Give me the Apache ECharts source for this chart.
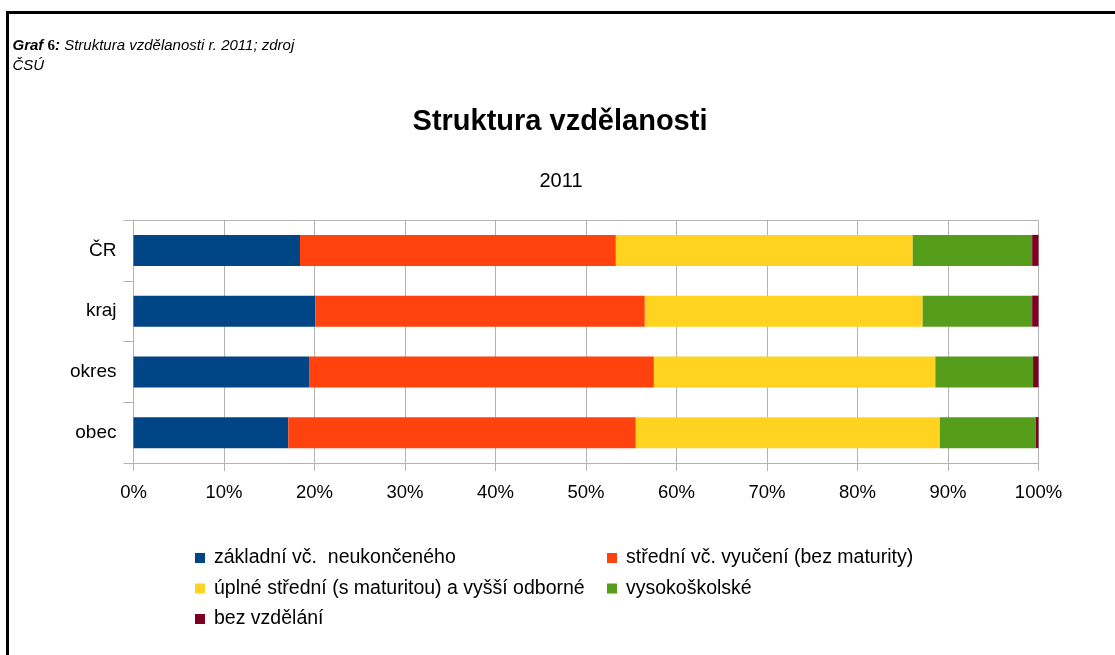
<!DOCTYPE html>
<html>
<head>
<meta charset="utf-8">
<script src="https://cdn.jsdelivr.net/npm/echarts@6/dist/echarts.min.js"></script>
<style>
html,body{margin:0;padding:0;background:#fff;}
#c{width:1115px;height:655px;}
</style>
</head>
<body>
<div id="c"></div>
<script>
// ---- data ----
const categories = ['ČR', 'kraj', 'okres', 'obec'];
const seriesNames = [
  'základní vč.  neukončeného',
  'střední vč. vyučení (bez maturity)',
  'úplné střední (s maturitou) a vyšší odborné',
  'vysokoškolské',
  'bez vzdělání'
];
const zakladni   = [18.4, 20.1, 19.4, 17.1];
const stredni    = [34.9, 36.4, 38.1, 38.4];
const uplne      = [32.8, 30.7, 31.1, 33.6];
const vysoko     = [13.2, 12.1, 10.8, 10.6];
const bezVzdel   = [0.7, 0.7, 0.6, 0.3];
const tickValues = [0, 10, 20, 30, 40, 50, 60, 70, 80, 90, 100];
const colors = ['#004586', '#ff420e', '#ffd320', '#579d1c', '#7e0021'];

const seriesData = [zakladni, stredni, uplne, vysoko, bezVzdel];
const FONT = '"Liberation Sans", Arial, sans-serif';
const GRAY = '#b3b3b3';

const chart = echarts.init(document.getElementById('c'), null, {renderer: 'canvas'});

const legendText = {fontFamily: FONT, fontSize: 19.5, color: '#000', lineHeight: 20, padding: [0, 0, 0, 4]};

chart.setOption({
  animation: false,
  color: colors,
  graphic: [
    {type: 'line', shape: {x1: 7.5, y1: 12.5, x2: 1115, y2: 12.5}, style: {stroke: '#000', lineWidth: 3}},
    {type: 'line', shape: {x1: 7.5, y1: 11, x2: 7.5, y2: 655}, style: {stroke: '#000', lineWidth: 3}},
    {
      type: 'text', x: 12.5, y: 36,
      style: {
        text: '{b|Graf }{n|6}{b|:}{i| Struktura vzdělanosti r. 2011; zdroj}\n{i|ČSÚ}',
        verticalAlign: 'top',
        rich: {
          b: {fontFamily: FONT, fontSize: 15, fontStyle: 'italic', fontWeight: 'bold', fill: '#000', lineHeight: 20},
          n: {fontFamily: '"Liberation Serif", serif', fontSize: 15, fontWeight: 'bold', fill: '#000', lineHeight: 20},
          i: {fontFamily: FONT, fontSize: 15, fontStyle: 'italic', fill: '#000', lineHeight: 20}
        }
      }
    },
    {
      type: 'text', x: 560, y: 122,
      style: {text: 'Struktura vzdělanosti', fontFamily: FONT, fontSize: 29, fontWeight: 'bold', fill: '#000', align: 'center', verticalAlign: 'middle'}
    },
    {
      type: 'text', x: 561, y: 181,
      style: {text: '2011', fontFamily: FONT, fontSize: 20, fill: '#000', align: 'center', verticalAlign: 'middle'}
    }
  ],
  legend: [
    {
      orient: 'vertical', left: 195, top: 548, padding: 0, itemWidth: 10, itemHeight: 10, itemGap: 10.5,
      icon: 'rect', selectedMode: false,
      data: [seriesNames[0], seriesNames[2], seriesNames[4]],
      textStyle: legendText
    },
    {
      orient: 'vertical', left: 607, top: 548, padding: 0, itemWidth: 10, itemHeight: 10, itemGap: 10.5,
      icon: 'rect', selectedMode: false,
      data: [seriesNames[1], seriesNames[3]],
      textStyle: legendText
    }
  ],
  grid: {left: 133.5, right: 76.5, top: 220, bottom: 192, containLabel: false},
  xAxis: [
    {
      type: 'value', min: 0, max: 100, interval: 10,
      axisLine: {show: true, lineStyle: {color: GRAY, width: 1}},
      axisTick: {show: true, length: 8, lineStyle: {color: GRAY}},
      splitLine: {show: true, lineStyle: {color: GRAY, width: 1}},
      axisLabel: {
        formatter: v => (tickValues.includes(v) ? v + '%' : ''),
        fontFamily: FONT, fontSize: 18.5, color: '#000', margin: 20
      }
    },
    {
      type: 'value', min: 0, max: 100, interval: 10, position: 'top',
      axisLine: {show: true, lineStyle: {color: GRAY, width: 1}},
      axisTick: {show: false}, axisLabel: {show: false}, splitLine: {show: false}
    }
  ],
  yAxis: {
    type: 'category', data: categories, inverse: true,
    axisLine: {show: true, lineStyle: {color: GRAY, width: 1}},
    axisTick: {show: true, length: 10, alignWithLabel: false, lineStyle: {color: GRAY}},
    splitLine: {show: false},
    axisLabel: {fontFamily: FONT, fontSize: 19, color: '#000', margin: 17}
  },
  series: seriesNames.map((name, i) => ({
    name: name,
    type: 'bar',
    stack: 'total',
    xAxisIndex: 0,
    barWidth: 31,
    itemStyle: {color: colors[i]},
    data: seriesData[i]
  }))
});
</script>
</body>
</html>
